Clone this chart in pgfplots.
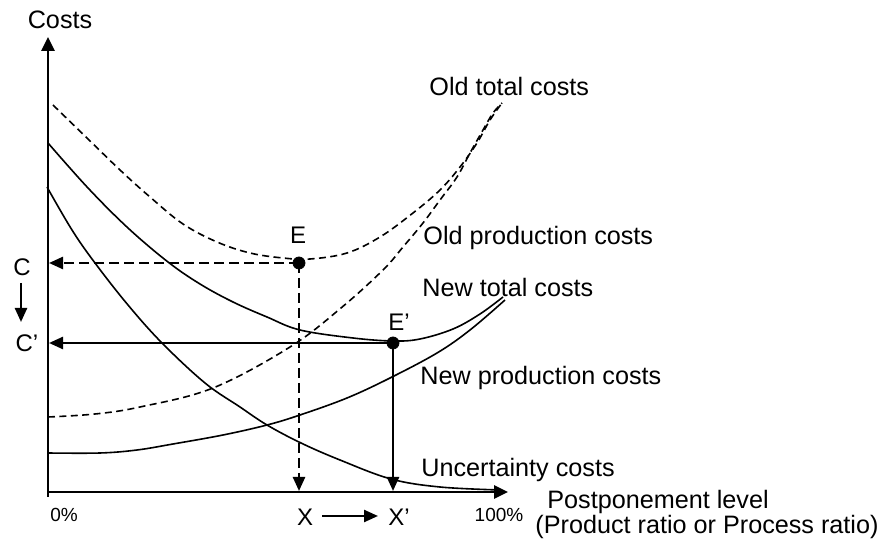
\documentclass[border=0pt]{standalone}
\usepackage{fontspec}
\setmainfont{Liberation Sans}
\usepackage{pgfplots}
\pgfplotsset{compat=1.18}
\usetikzlibrary{arrows.meta}
\newcommand\lab{\fontsize{12.6}{15}\selectfont}
\newcommand\ltr{\fontsize{12}{14}\selectfont}
\newcommand\pct{\fontsize{9.5}{11}\selectfont}
\begin{document}
\begin{tikzpicture}
\begin{axis}[width=443pt,height=272.5pt,scale only axis,
  xmin=0,xmax=886,ymin=0,ymax=545,hide axis,clip=false]
% axes
\addplot[line width=1.4pt,-{Triangle[length=7pt,width=6.5pt]}] coordinates {(48,48) (48,508)};
\addplot[line width=1.4pt,-{Triangle[length=7pt,width=6.5pt]}] coordinates {(47,53) (508,53)};
% Old total costs
\addplot[smooth,tension=0.6,line width=0.8pt,dash pattern=on 3.5pt off 2.2pt] coordinates {
(53,440) (87,407) (120,375) (150,348) (183,321) (217,303) (250,292) (283,287) (310,286) (347,292) (380,308) (413,332) (440,355) (460,378) (477,402) (490,425) (502,442)};
% Old production costs
\addplot[smooth,tension=0.6,line width=0.8pt,dash pattern=on 3.5pt off 2.2pt] coordinates {
(48,128) (95,131) (140,138) (213,157) (290,198) (341,237) (383,275) (403,298) (423,322) (440,345) (457,368) (470,392) (483,415) (493,432) (502,442)};
% New total costs
\addplot[smooth,tension=0.6,line width=0.8pt] coordinates {
(48,402) (88,357) (128,317) (168,283) (200,261) (233,243) (267,228) (300,215) (353,207) (393,204) (420,206) (453,216) (480,231) (503,248)};
% New production costs
\addplot[smooth,tension=0.6,line width=0.8pt] coordinates {
(48,92) (100,92) (137,95) (173,101) (223,110) (267,120) (300,130) (347,147) (390,167) (437,192) (470,215) (505,245)};
% Uncertainty costs
\addplot[smooth,tension=0.6,line width=0.8pt] coordinates {
(47,358) (72,315) (95,282) (128,240) (162,202) (205,162) (240,138) (267,120) (301,102) (340,85) (391,66) (440,58) (500,55)};
% drop lines
\addplot[line width=1.2pt,dash pattern=on 5pt off 2.5pt,-{Triangle[length=7pt,width=6pt]}] coordinates {(299,282) (49,282)};
\addplot[line width=1.2pt,dash pattern=on 5pt off 2.5pt,-{Triangle[length=7pt,width=6pt]}] coordinates {(299,282) (299,54)};
\addplot[line width=1.2pt,-{Triangle[length=7pt,width=6pt]}] coordinates {(393,202) (49,202)};
\addplot[line width=1.2pt,-{Triangle[length=7pt,width=6pt]}] coordinates {(393,202) (393,54)};
% equilibrium points
\addplot[only marks,mark=*,mark size=3pt,black] coordinates {(299,282) (393,202)};
% small arrows
\draw[line width=1.2pt,-{Triangle[length=7pt,width=6pt]}] (axis cs:21,262) -- (axis cs:21,223);
\draw[line width=1.2pt,-{Triangle[length=7pt,width=6pt]}] (axis cs:322,29) -- (axis cs:378,29);
% labels
\node[font=\lab] at (axis cs:60,525) {Costs};
\node[font=\lab,anchor=west,inner sep=0pt] at (axis cs:429,458) {Old total costs};
\node[font=\lab,anchor=west,inner sep=0pt] at (axis cs:423,307) {Old production costs};
\node[font=\lab,anchor=west,inner sep=0pt] at (axis cs:422,258) {New total costs};
\node[font=\lab,anchor=west,inner sep=0pt] at (axis cs:420,167) {New production costs};
\node[font=\lab,anchor=west,inner sep=0pt] at (axis cs:421,75) {Uncertainty costs};
\node[font=\lab,anchor=west,inner sep=0pt,align=left] at (axis cs:535,30.5)
  {\hspace{6pt}Postponement level\\[-2.2pt](Product ratio or Process ratio)};
\node[font=\pct,anchor=west,inner sep=0pt] at (axis cs:50,30) {0\%};
\node[font=\pct,inner sep=0pt] at (axis cs:499,30) {100\%};
\node[font=\ltr,inner sep=0pt] at (axis cs:305,28) {X};
\node[font=\ltr,inner sep=0pt] at (axis cs:399,28) {X’};
\node[font=\ltr,inner sep=0pt] at (axis cs:298,310) {E};
\node[font=\ltr,inner sep=0pt] at (axis cs:399,223) {E’};
\node[font=\ltr,inner sep=0pt] at (axis cs:22,278) {C};
\node[font=\ltr,inner sep=0pt] at (axis cs:27,202) {C’};
\end{axis}
\pgfresetboundingbox
\path (current axis.south west) rectangle (current axis.north east);
\end{tikzpicture}
\end{document}
